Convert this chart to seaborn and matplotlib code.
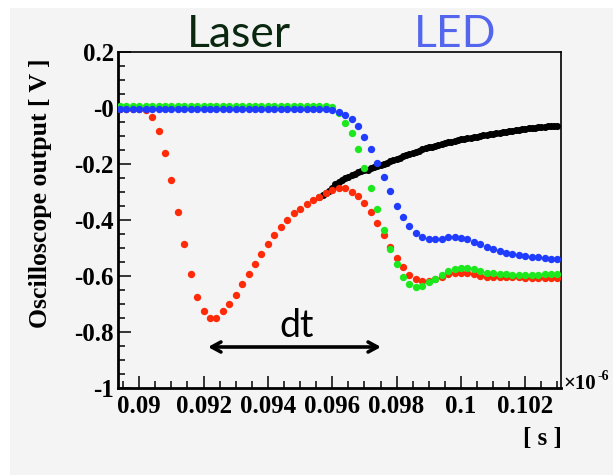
import numpy as np
import pandas as pd
import matplotlib
matplotlib.use("Agg")
import matplotlib.pyplot as plt
import seaborn as sns
from matplotlib.patches import Rectangle
from matplotlib.ticker import FixedLocator, FixedFormatter, MultipleLocator

# ---- oscilloscope traces (time in units of 1e-6 s, output in V) ----
t_coarse = np.round(0.0894 + 0.0002 * np.arange(69), 4)
t_fine = np.round(0.0956 + 0.0001 * np.arange(75), 4)

laser_red = [
    -0.003, -0.003, -0.003, -0.004, -0.006, -0.031, -0.081, -0.160, -0.257, -0.373,
    -0.487, -0.593, -0.674, -0.724, -0.751, -0.751, -0.725, -0.701, -0.668, -0.630,
    -0.593, -0.557, -0.523, -0.487, -0.455, -0.424, -0.400, -0.376, -0.361, -0.344,
    -0.329, -0.317, -0.305, -0.293, -0.287, -0.287, -0.299, -0.314, -0.338, -0.370,
    -0.412, -0.454, -0.495, -0.537, -0.569, -0.596, -0.612, -0.618, -0.618, -0.612,
    -0.602, -0.593, -0.588, -0.588, -0.590, -0.594, -0.600, -0.602, -0.604, -0.605,
    -0.605, -0.605, -0.605, -0.606, -0.606, -0.606, -0.606, -0.606, -0.606,
]

led_green = [
    0.008, 0.008, 0.008, 0.008, 0.008, 0.008, 0.008, 0.008, 0.008, 0.008,
    0.008, 0.008, 0.008, 0.008, 0.008, 0.008, 0.008, 0.008, 0.008, 0.008,
    0.008, 0.008, 0.008, 0.008, 0.008, 0.008, 0.008, 0.008, 0.008, 0.008,
    0.008, 0.008, 0.007, 0.004, -0.019, -0.052, -0.090, -0.148, -0.215, -0.285,
    -0.362, -0.436, -0.504, -0.557, -0.602, -0.629, -0.638, -0.635, -0.623, -0.611,
    -0.596, -0.582, -0.576, -0.573, -0.573, -0.576, -0.583, -0.588, -0.591, -0.593,
    -0.594, -0.595, -0.595, -0.595, -0.595, -0.595, -0.594, -0.594, -0.594,
]

led_blue = [
    -0.004, -0.004, -0.004, -0.004, -0.004, -0.004, -0.004, -0.004, -0.004, -0.004,
    -0.004, -0.004, -0.004, -0.004, -0.004, -0.004, -0.004, -0.004, -0.004, -0.004,
    -0.004, -0.004, -0.004, -0.004, -0.004, -0.004, -0.004, -0.004, -0.004, -0.004,
    -0.004, -0.004, -0.005, -0.007, -0.013, -0.025, -0.040, -0.064, -0.105, -0.148,
    -0.195, -0.245, -0.295, -0.350, -0.388, -0.420, -0.445, -0.460, -0.467, -0.469,
    -0.467, -0.462, -0.460, -0.463, -0.469, -0.477, -0.486, -0.495, -0.505, -0.511,
    -0.517, -0.521, -0.525, -0.529, -0.531, -0.533, -0.537, -0.539, -0.540,
]

laser_black = [
    -0.317, -0.311, -0.303, -0.295, -0.284, -0.272, -0.264, -0.257, -0.251, -0.245,
    -0.239, -0.234, -0.230, -0.226, -0.223, -0.220, -0.216, -0.212, -0.208, -0.204,
    -0.200, -0.195, -0.191, -0.186, -0.181, -0.177, -0.172, -0.168, -0.164, -0.160,
    -0.156, -0.152, -0.148, -0.144, -0.141, -0.138, -0.135, -0.132, -0.129, -0.126,
    -0.123, -0.120, -0.117, -0.114, -0.112, -0.110, -0.108, -0.106, -0.104, -0.102,
    -0.100, -0.098, -0.096, -0.094, -0.093, -0.091, -0.088, -0.086, -0.085, -0.083,
    -0.081, -0.079, -0.077, -0.075, -0.074, -0.073, -0.071, -0.070, -0.069, -0.068,
    -0.067, -0.066, -0.065, -0.064, -0.063,
]

x_ticks = [0.090, 0.092, 0.094, 0.096, 0.098, 0.100, 0.102]
x_tick_labels = ["0.09", "0.092", "0.094", "0.096", "0.098", "0.1", "0.102"]
y_ticks = [0.2, 0.0, -0.2, -0.4, -0.6, -0.8, -1.0]
y_tick_labels = ["0.2", "-0", "-0.2", "-0.4", "-0.6", "-0.8", "-1"]

coarse = pd.DataFrame({
    "t": np.concatenate([t_coarse] * 3),
    "v": np.concatenate([laser_red, led_green, led_blue]),
    "trace": ["red"] * 69 + ["green"] * 69 + ["blue"] * 69,
})
fine = pd.DataFrame({"t": t_fine, "v": laser_black})

sns.set_theme(style="white")
plt.rcParams["axes.unicode_minus"] = False

W, H = 613, 475
fig = plt.figure(figsize=(W / 100, H / 100), dpi=100)
fig.patch.set_facecolor("white")
bg = "#f4f4f4"
fig.add_artist(Rectangle((10 / W, 0), 1 - 10 / W, 1 - 8 / H,
                         transform=fig.transFigure, facecolor=bg,
                         edgecolor="none", zorder=0))

ax = fig.add_axes([118 / W, 87 / H, 443 / W, 336 / H])
ax.set_facecolor(bg)

sns.scatterplot(data=fine, x="t", y="v", ax=ax, color="black",
                s=26, linewidth=0, zorder=2, legend=False)
colors = {"red": "#ff2a08", "green": "#1de81d", "blue": "#1f3cff"}
for i, name in enumerate(["red", "green", "blue"]):
    sub = coarse[coarse["trace"] == name]
    sns.scatterplot(data=sub, x="t", y="v", ax=ax, color=colors[name],
                    s=28, linewidth=0, zorder=3 + i, legend=False)

ax.set_xlim(0.08934, 0.10311)
ax.set_ylim(-1.0, 0.2)
ax.set_xlabel("")
ax.set_ylabel("")

serif = "Liberation Serif"
ax.xaxis.set_major_locator(FixedLocator(x_ticks))
ax.xaxis.set_major_formatter(FixedFormatter(x_tick_labels))
ax.xaxis.set_minor_locator(MultipleLocator(0.0005))
ax.yaxis.set_major_locator(FixedLocator(y_ticks))
ax.yaxis.set_major_formatter(FixedFormatter(y_tick_labels))
ax.yaxis.set_minor_locator(MultipleLocator(0.05))
ax.tick_params(which="both", direction="in", top=False, right=False,
               bottom=True, left=True, color="black", width=1.1)
ax.tick_params(which="major", length=9)
ax.tick_params(which="minor", length=5)
ax.tick_params(axis="x", which="major", pad=5)
ax.tick_params(axis="y", which="major", pad=3)
for lab in ax.get_xticklabels() + ax.get_yticklabels():
    lab.set_fontfamily(serif)
    lab.set_fontweight("bold")
    lab.set_fontsize(18)
    lab.set_color("black")

for side in ["left", "bottom"]:
    ax.spines[side].set_linewidth(2.0)
for side in ["top", "right"]:
    ax.spines[side].set_linewidth(1.2)
for sp in ax.spines.values():
    sp.set_color("black")
    sp.set_visible(True)

# axis titles
fig.text(41 / W, 1 - 58 / H, "Oscilloscope output [ V ]", rotation=90,
         ha="center", va="top", fontfamily=serif, fontweight="bold",
         fontsize=18.5, color="black")
fig.text(562 / W, 1 - 439 / H, "[ s ]", ha="right", va="center",
         fontfamily=serif, fontweight="bold", fontsize=18, color="black")
# time-axis exponent, kept inside the right edge
fig.text(563 / W, 1 - 384 / H, "×10", ha="left", va="center",
         fontfamily=serif, fontweight="bold", fontsize=15, color="black")
fig.text(597 / W, 1 - 376 / H, "-6", ha="left", va="center",
         fontfamily=serif, fontweight="bold", fontsize=10, color="black")

# source labels
fig.text(187 / W, 1 - 47 / H, "Laser", ha="left", va="baseline",
         fontfamily="Lato", fontsize=32, color="#0a2810")
fig.text(414 / W, 1 - 47 / H, "LED", ha="left", va="baseline",
         fontfamily="Lato", fontsize=32, color="#5566ee")

# time difference marker
ax.annotate("", xy=(208 / W, 1 - 347 / H), xytext=(381 / W, 1 - 347 / H),
            xycoords="figure fraction", textcoords="figure fraction",
            arrowprops=dict(arrowstyle="<->,head_length=0.55,head_width=0.3",
                            lw=2.6, color="black", shrinkA=0, shrinkB=0))
fig.text(297 / W, 1 - 337 / H, "dt", ha="center", va="baseline",
         fontfamily="Lato", fontsize=27, color="black")

fig.savefig("out.png", dpi=100, facecolor="white")
